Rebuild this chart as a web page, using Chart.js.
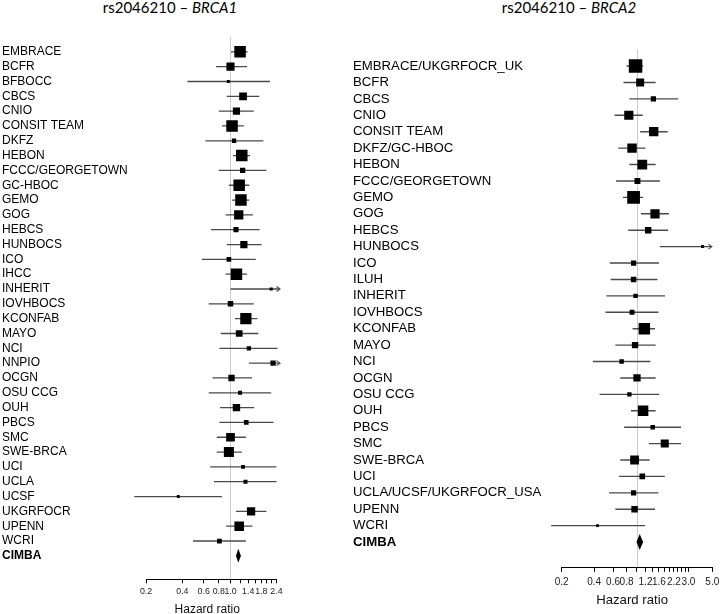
<!DOCTYPE html>
<html><head><meta charset="utf-8">
<script src="https://cdn.jsdelivr.net/npm/chart.js@4"></script>
<style>
html,body{margin:0;padding:0;background:#fff;overflow:hidden;width:720px;height:614px;}
#wrap{position:relative;width:720px;height:614px;overflow:hidden;}
canvas{position:absolute;top:0;}
#cA{left:0;} #cB{left:350px;}
.title{position:absolute;font-family:Lato,"Open Sans",sans-serif;font-size:15px;color:#000;white-space:nowrap;transform:translateX(-50%);top:-1px;line-height:17px;}
</style></head>
<body><div id="wrap">
<div class="title" style="left:170px">rs2046210 – <i>BRCA1</i></div>
<div class="title" style="left:569px">rs2046210 – <i>BRCA2</i></div>
<canvas id="cA" width="350" height="620"></canvas>
<canvas id="cB" width="380" height="614"></canvas>
</div>
<script>
// ---------- BRCA1 panel data ----------
const studiesA = ['EMBRACE','BCFR','BFBOCC','CBCS','CNIO','CONSIT TEAM','DKFZ','HEBON','FCCC/GEORGETOWN','GC-HBOC','GEMO','GOG','HEBCS','HUNBOCS','ICO','IHCC','INHERIT','IOVHBOCS','KCONFAB','MAYO','NCI','NNPIO','OCGN','OSU CCG','OUH','PBCS','SMC','SWE-BRCA','UCI','UCLA','UCSF','UKGRFOCR','UPENN','WCRI','CIMBA'];
const hrA = [1.20,1.00,0.96,1.27,1.12,1.03,1.07,1.24,1.26,1.18,1.22,1.17,1.11,1.29,0.97,1.12,2.17,1.00,1.34,1.18,1.42,2.25,1.02,1.20,1.12,1.35,1.00,0.97,1.27,1.33,0.37,1.48,1.18,0.81,1.16];
const loA = [1.01,0.76,0.44,0.93,0.80,0.85,0.62,1.05,0.80,0.97,1.03,0.91,0.69,0.93,0.58,0.91,1.00,0.66,1.09,0.83,0.81,1.42,0.71,0.66,0.82,0.81,0.77,0.77,0.68,0.73,0.16,1.11,0.92,0.49,1.11];
const hiA = [1.39,1.37,2.12,1.73,1.56,1.29,1.87,1.45,1.98,1.43,1.43,1.53,1.74,1.81,1.62,1.37,4.70,1.56,1.67,1.70,2.45,3.56,1.51,2.17,1.57,2.27,1.34,1.24,2.40,2.40,0.85,1.98,1.52,1.34,1.22];
const xTicksA = [0.2,0.4,0.6,0.8,1.0,1.2,1.4,1.6,1.8,2.0,2.2,2.4];
const xTickLabelsA = ['0.2','0.4','0.6','0.8','1.0','','1.4','','1.8','','','2.4'];

// ---------- BRCA2 panel data ----------
const studiesB = ['EMBRACE/UKGRFOCR_UK','BCFR','CBCS','CNIO','CONSIT TEAM','DKFZ/GC-HBOC','HEBON','FCCC/GEORGETOWN','GEMO','GOG','HEBCS','HUNBOCS','ICO','ILUH','INHERIT','IOVHBOCS','KCONFAB','MAYO','NCI','OCGN','OSU CCG','OUH','PBCS','SMC','SWE-BRCA','UCI','UCLA/UCSF/UKGRFOCR_USA','UPENN','WCRI','CIMBA'];
const hrB = [0.97,1.07,1.42,0.84,1.43,0.90,1.12,1.01,0.93,1.47,1.27,4.06,0.93,0.93,0.97,0.90,1.17,0.96,0.72,1.00,0.85,1.14,1.40,1.81,0.95,1.12,0.93,0.95,0.43,1.06];
const loB = [0.80,0.75,0.85,0.62,1.07,0.67,0.85,0.64,0.74,1.09,0.83,1.63,0.56,0.57,0.52,0.51,0.91,0.63,0.39,0.70,0.45,0.88,0.76,1.29,0.70,0.68,0.55,0.63,0.16,0.99];
const hiB = [1.14,1.49,2.41,1.13,1.93,1.20,1.49,1.63,1.14,1.98,1.95,10.1,1.60,1.55,1.82,1.58,1.47,1.49,1.33,1.49,1.61,1.49,2.56,2.56,1.31,1.81,1.58,1.47,1.19,1.14];
const xTicksB = [0.2,0.4,0.6,0.8,1.0,1.2,1.4,1.6,1.8,2.0,2.2,2.4,2.6,2.8,3.0,5.0];
const xTickLabelsB = ['0.2','0.4','0.6','0.8','','1.2','','1.6','','','2.2','','','','3.0','5.0'];

const summaryName = 'CIMBA';
const FONT = "'Liberation Sans', Arial, Helvetica, sans-serif";
Chart.defaults.font.family = FONT;

function forestChart(canvasId, names, hr, lo, hi, xTicks, xLabels, st) {
  const sumIdx = names.indexOf(summaryName);
  const rows = names.map((_, i) => i).filter(i => i !== sumIdx);
  const side = i => Math.min(st.maxBox, Math.max(st.minBox, st.k / Math.log(hi[i] / lo[i])));

  const plugin = {
    id: 'forestExtras',
    beforeDatasetsDraw(chart) {
      const {ctx, chartArea, scales: {x}} = chart;
      const p1 = Math.round(x.getPixelForValue(1)) + 0.5;
      ctx.save();
      ctx.strokeStyle = '#cccccc'; ctx.lineWidth = 1;
      ctx.beginPath(); ctx.moveTo(p1, chartArea.top); ctx.lineTo(p1, chartArea.bottom); ctx.stroke();
      const yb = Math.round(chartArea.bottom) + 0.5;
      ctx.strokeStyle = '#000';
      ctx.beginPath();
      ctx.moveTo(x.getPixelForValue(xTicks[0]), yb);
      ctx.lineTo(x.getPixelForValue(xTicks[xTicks.length - 1]) + 0.5, yb);
      ctx.stroke();
      ctx.restore();
    },
    afterDatasetsDraw(chart) {
      const {ctx, scales: {x, y}} = chart;
      ctx.save();
      ctx.strokeStyle = st.whiskerColor; ctx.lineWidth = 1.1;
      rows.forEach(i => {
        if (hi[i] > st.clip) {
          const tx = x.getPixelForValue(st.clip), ty = y.getPixelForValue(i);
          ctx.beginPath();
          ctx.moveTo(tx - 3.5, ty - 2.5); ctx.lineTo(tx, ty); ctx.lineTo(tx - 3.5, ty + 2.5);
          ctx.stroke();
        }
      });
      const yc = y.getPixelForValue(sumIdx);
      ctx.fillStyle = '#000';
      ctx.beginPath();
      ctx.moveTo(x.getPixelForValue(lo[sumIdx]), yc);
      ctx.lineTo(x.getPixelForValue(hr[sumIdx]), yc - st.diamondH / 2);
      ctx.lineTo(x.getPixelForValue(hi[sumIdx]), yc);
      ctx.lineTo(x.getPixelForValue(hr[sumIdx]), yc + st.diamondH / 2);
      ctx.closePath(); ctx.fill();
      ctx.restore();
    }
  };

  return new Chart(document.getElementById(canvasId), {
    type: 'scatter',
    data: {
      datasets: [
        {
          type: 'scatter', order: 0,
          data: rows.map(i => ({x: hr[i], y: i})),
          pointStyle: 'rect',
          pointRadius: rows.map(i => side(i) / Math.SQRT2),
          pointHoverRadius: rows.map(i => side(i) / Math.SQRT2),
          backgroundColor: '#000', borderWidth: 0
        },
        {
          type: 'bar', order: 1, indexAxis: 'y',
          data: rows.map(i => ({y: i, x: [lo[i], Math.min(hi[i], st.clip)]})),
          backgroundColor: st.whiskerColor, borderWidth: 0,
          barThickness: st.whiskerW, inflateAmount: 0, grouped: false
        }
      ]
    },
    options: {
      responsive: false, animation: false, events: [],
      plugins: {legend: {display: false}, tooltip: {enabled: false}},
      layout: {padding: st.pad},
      scales: {
        x: {
          type: 'logarithmic', min: st.xmin, max: st.xmax, bounds: 'data',
          afterBuildTicks: s => { s.ticks = xTicks.map(v => ({value: v})); },
          afterFit: s => { s.height = st.xh; },
          border: {display: false},
          grid: {display: true, drawOnChartArea: false, drawTicks: true, tickLength: st.tl, color: '#000', tickColor: '#000', lineWidth: 1},
          ticks: {autoSkip: false, maxRotation: 0, minRotation: 0, padding: st.tp, color: '#222',
                  font: {family: FONT, size: st.tickSize}, callback: (v, i) => xLabels[i]},
          title: {display: true, text: 'Hazard ratio', color: '#111', padding: 0, font: {family: FONT, size: st.titleSize}}
        },
        y: {
          type: 'linear', reverse: true, min: -0.5, max: st.ymax, bounds: 'data',
          afterBuildTicks: s => { s.ticks = names.map((_, i) => ({value: i})); },
          afterFit: s => { s.width = st.yw; },
          grid: {display: false}, border: {display: false},
          ticks: {autoSkip: false, crossAlign: 'far', padding: 0, color: '#000',
                  font: ctx => ({family: FONT, size: st.labelSize,
                                 weight: (names[ctx.index] === summaryName && ctx.tick) ? 'bold' : 'normal'}),
                  callback: v => names[v]}
        }
      }
    },
    plugins: [plugin]
  });
}

forestChart('cA', studiesA, hrA, loA, hiA, xTicksA, xTickLabelsA, {
  k: 4.8, minBox: 2.6, maxBox: 11.5, clip: 2.57, diamondH: 14, whiskerW: 1.3, whiskerColor: '#4a4a4a',
  xmin: 0.15, xmax: 2.75, ymax: 35.06, yw: 128.9, xh: 37.2,
  pad: {left: 2, right: 66.4, top: 36.67, bottom: 3.5},
  tl: 4, tp: 3.1, tickSize: 8.8, titleSize: 12, labelSize: 12
});

forestChart('cB', studiesB, hrB, loB, hiB, xTicksB, xTickLabelsB, {
  k: 5.5, minBox: 2.8, maxBox: 13.5, clip: 4.95, diamondH: 16, whiskerW: 1.4, whiskerColor: '#4a4a4a',
  xmin: 0.15, xmax: 5.4, ymax: 30.01, yw: 195.2, xh: 41.3,
  pad: {left: 3, right: 14.1, top: 49.2, bottom: 5.4},
  tl: 4.5, tp: 4.1, tickSize: 10, titleSize: 13.2, labelSize: 13.2
});
</script>
</body></html>
